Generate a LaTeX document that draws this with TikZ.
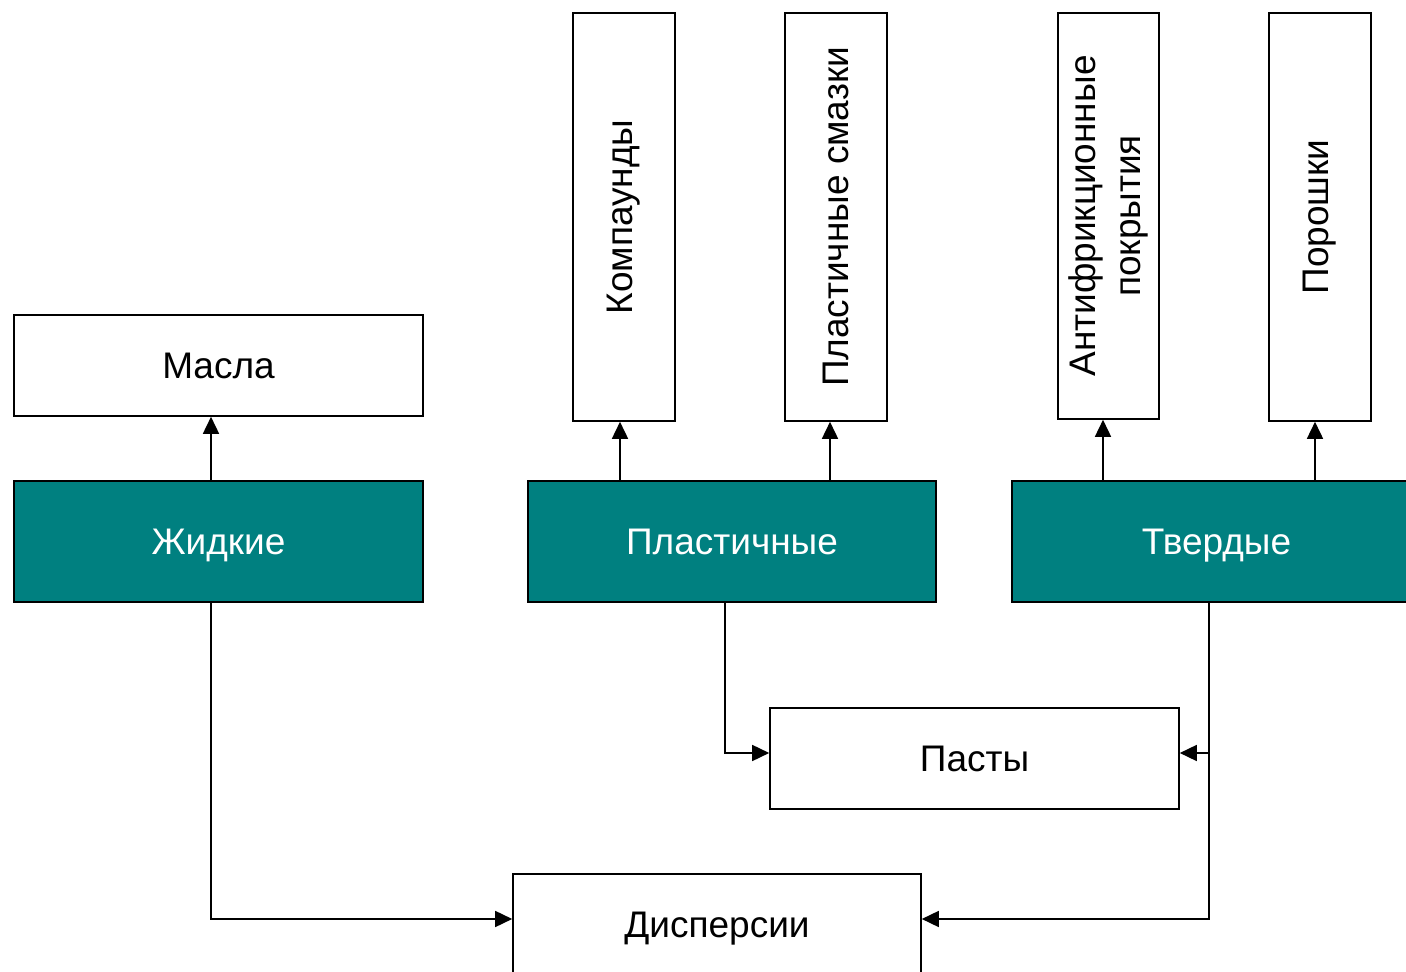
\documentclass[tikz,border=0pt]{standalone}
\usepackage{fontspec}
\setmainfont{Liberation Sans}
\usetikzlibrary{arrows.meta}
\definecolor{teal1}{HTML}{008080}
\tikzset{
	box/.style={draw, line width=1.6pt, fill=white, inner sep=0pt},
	kind/.style={box, fill=teal1, text=white, minimum width=409, minimum height=121},
	wide/.style={box, minimum width=409, minimum height=101},
	tall/.style={box, minimum width=102, minimum height=408},
	arr/.style={line width=1.6pt, -{Triangle[length=17pt,width=16pt]}}
}
\begin{document}
\begin{tikzpicture}[x=1pt, y=1pt, font=\fontsize{37}{45}\selectfont]
	\useasboundingbox (0,0) rectangle (1406,972);
	\clip (0,0) rectangle (1406,972);
	% upper boxes
	\node[wide, text height=26pt, text depth=0pt] (masla) at (218.5,606.5) {Масла};
	\node[tall] (komp) at (624,755) {\rotatebox{90}{Компаунды}};
	\node[tall] (smazki) at (836,755) {\rotatebox{90}{Пластичные смазки}};
	\node[tall, minimum width=101, minimum height=406] (anti) at (1108.5,756)
		{\rotatebox{90}{\begin{tabular}{@{}c@{}}Антифрикционные\\покрытия\end{tabular}}};
	\node[tall] (porosh) at (1320,755) {\rotatebox{90}{Порошки}};
	% main groups
	\node[kind, text height=26pt, text depth=0pt] (zhidk) at (218.5,430.5) {Жидкие};
	\node[kind, minimum width=408, text height=26pt, text depth=0pt] (plast) at (732,430.5) {Пластичные};
	\node[kind, text height=26pt, text depth=0pt] (tverd) at (1216.5,430.5) {Твердые};
	% lower boxes
	\node[wide, text height=26pt, text depth=0pt] (pasty) at (974.5,213.5) {Пасты};
	\node[wide, minimum width=408, text height=26pt, text depth=0pt] (disp) at (717,47.5) {Дисперсии};
	% links
	\draw[arr] (zhidk.north -| 211,0) -- (masla.south -| 211,0);
	\draw[arr] (plast.north -| 620,0) -- (komp.south -| 620,0);
	\draw[arr] (plast.north -| 830,0) -- (smazki.south -| 830,0);
	\draw[arr] (tverd.north -| 1103,0) -- (anti.south -| 1103,0);
	\draw[arr] (tverd.north -| 1315,0) -- (porosh.south -| 1315,0);
	\coordinate (tv) at (1209,219);
	\draw[arr] (plast.south -| 725,0) |- (pasty.west |- tv);
	\draw[arr] (tverd.south -| tv) |- (disp.east |- 0,53);
	\draw[arr] (tv) -- (pasty.east |- tv);
	\draw[arr] (zhidk.south -| 211,0) |- (disp.west |- 0,53);
\end{tikzpicture}
\end{document}
